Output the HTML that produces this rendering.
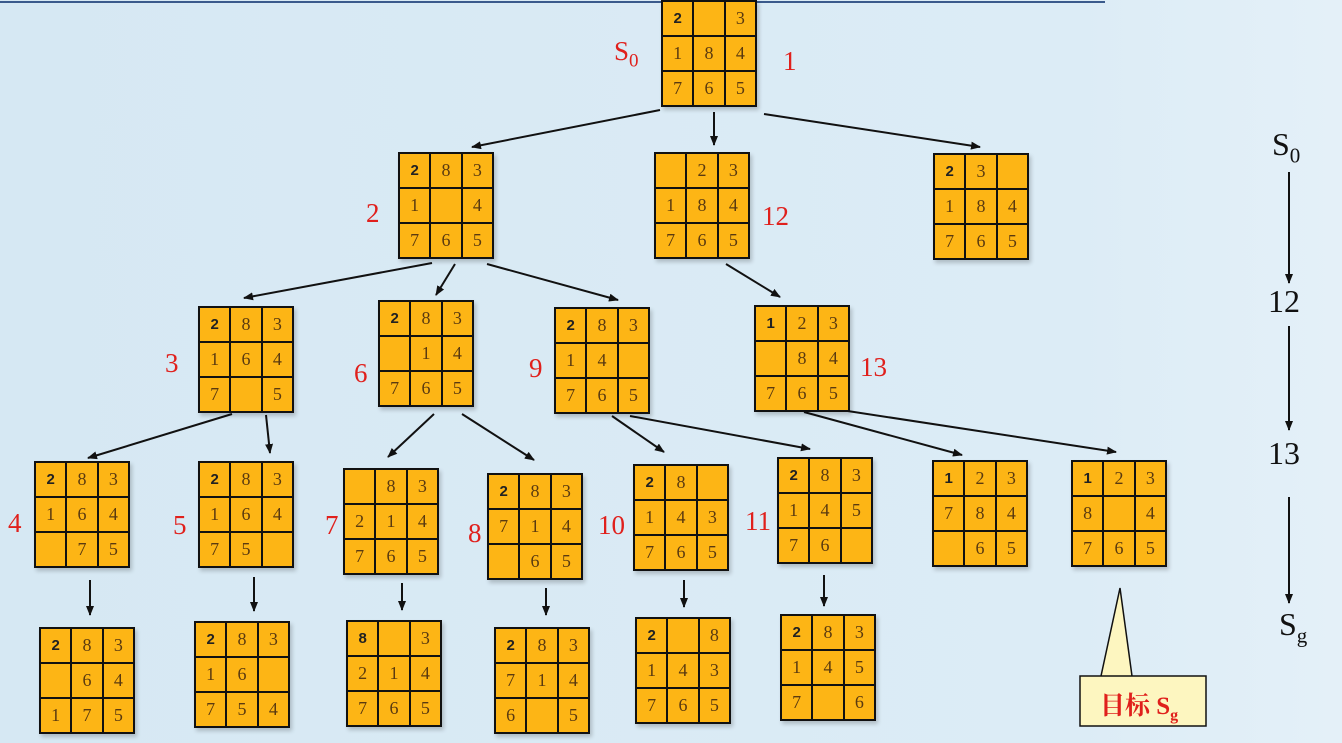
<!DOCTYPE html>
<html><head><meta charset="utf-8"><style>
body{margin:0;width:1342px;height:743px;overflow:hidden;background:linear-gradient(90deg,#d6e8f3,#dcecf6 80%,#e4f0f8);position:relative;font-family:"Liberation Serif",serif}
.b{position:absolute;width:92px;height:103px;border:2px solid #111;background:#111;display:grid;grid-template-columns:repeat(3,1fr);grid-template-rows:repeat(3,1fr);gap:2px;box-shadow:2px 3px 4px rgba(0,0,0,.2)}
.b span{background:#fdb515;color:#5a3a10;font-size:18px;display:flex;align-items:center;justify-content:center}
.b span:first-child{font-family:"Liberation Sans",sans-serif;font-weight:bold;color:#222;font-size:15px}
.l{position:absolute;color:#e0201c;font-size:27px}
.r{position:absolute;color:#111;font-size:32px}
svg{position:absolute;left:0;top:0}
</style></head><body>
<div style="position:absolute;left:0;top:1px;width:1105px;height:2px;background:#3a5a8c"></div>
<svg width="1342" height="743"><defs><marker id="a" markerWidth="10" markerHeight="8" refX="9" refY="4" orient="auto" markerUnits="userSpaceOnUse"><path d="M0,0L10,4L0,8z" fill="#111"/></marker></defs>
<g stroke="#111" stroke-width="2" fill="none" marker-end="url(#a)">
<line x1="660" y1="110" x2="472" y2="147"/>
<line x1="714" y1="112" x2="714" y2="145"/>
<line x1="764" y1="114" x2="980" y2="147"/>
<line x1="432" y1="263" x2="244" y2="298"/>
<line x1="455" y1="264" x2="436" y2="295"/>
<line x1="487" y1="264" x2="618" y2="300"/>
<line x1="726" y1="264" x2="780" y2="297"/>
<line x1="232" y1="414" x2="88" y2="458"/>
<line x1="266" y1="415" x2="270" y2="453"/>
<line x1="434" y1="414" x2="388" y2="457"/>
<line x1="462" y1="414" x2="534" y2="460"/>
<line x1="612" y1="416" x2="664" y2="452"/>
<line x1="630" y1="416" x2="810" y2="449"/>
<line x1="804" y1="412" x2="962" y2="455"/>
<line x1="828" y1="408" x2="1116" y2="452"/>
<line x1="90" y1="580" x2="90" y2="615"/>
<line x1="254" y1="577" x2="254" y2="611"/>
<line x1="402" y1="583" x2="402" y2="610"/>
<line x1="546" y1="588" x2="546" y2="615"/>
<line x1="684" y1="580" x2="684" y2="607"/>
<line x1="824" y1="575" x2="824" y2="606"/>
<line x1="1289" y1="172" x2="1289" y2="283"/>
<line x1="1289" y1="326" x2="1289" y2="430"/>
<line x1="1289" y1="497" x2="1289" y2="603"/>
</g>
<path d="M1080,676H1206V726H1080V676H1101L1120,588L1132,676" fill="#fdf6c0" stroke="#111" stroke-width="1.5"/>
</svg>
<div class="b" style="left:661px;top:0px"><span>2</span><span></span><span>3</span><span>1</span><span>8</span><span>4</span><span>7</span><span>6</span><span>5</span></div>
<div class="b" style="left:398px;top:152px"><span>2</span><span>8</span><span>3</span><span>1</span><span></span><span>4</span><span>7</span><span>6</span><span>5</span></div>
<div class="b" style="left:654px;top:152px"><span></span><span>2</span><span>3</span><span>1</span><span>8</span><span>4</span><span>7</span><span>6</span><span>5</span></div>
<div class="b" style="left:933px;top:153px"><span>2</span><span>3</span><span></span><span>1</span><span>8</span><span>4</span><span>7</span><span>6</span><span>5</span></div>
<div class="b" style="left:198px;top:306px"><span>2</span><span>8</span><span>3</span><span>1</span><span>6</span><span>4</span><span>7</span><span></span><span>5</span></div>
<div class="b" style="left:378px;top:300px"><span>2</span><span>8</span><span>3</span><span></span><span>1</span><span>4</span><span>7</span><span>6</span><span>5</span></div>
<div class="b" style="left:554px;top:307px"><span>2</span><span>8</span><span>3</span><span>1</span><span>4</span><span></span><span>7</span><span>6</span><span>5</span></div>
<div class="b" style="left:754px;top:305px"><span>1</span><span>2</span><span>3</span><span></span><span>8</span><span>4</span><span>7</span><span>6</span><span>5</span></div>
<div class="b" style="left:34px;top:461px"><span>2</span><span>8</span><span>3</span><span>1</span><span>6</span><span>4</span><span></span><span>7</span><span>5</span></div>
<div class="b" style="left:198px;top:461px"><span>2</span><span>8</span><span>3</span><span>1</span><span>6</span><span>4</span><span>7</span><span>5</span><span></span></div>
<div class="b" style="left:343px;top:468px"><span></span><span>8</span><span>3</span><span>2</span><span>1</span><span>4</span><span>7</span><span>6</span><span>5</span></div>
<div class="b" style="left:487px;top:473px"><span>2</span><span>8</span><span>3</span><span>7</span><span>1</span><span>4</span><span></span><span>6</span><span>5</span></div>
<div class="b" style="left:633px;top:464px"><span>2</span><span>8</span><span></span><span>1</span><span>4</span><span>3</span><span>7</span><span>6</span><span>5</span></div>
<div class="b" style="left:777px;top:457px"><span>2</span><span>8</span><span>3</span><span>1</span><span>4</span><span>5</span><span>7</span><span>6</span><span></span></div>
<div class="b" style="left:932px;top:460px"><span>1</span><span>2</span><span>3</span><span>7</span><span>8</span><span>4</span><span></span><span>6</span><span>5</span></div>
<div class="b" style="left:1071px;top:460px"><span>1</span><span>2</span><span>3</span><span>8</span><span></span><span>4</span><span>7</span><span>6</span><span>5</span></div>
<div class="b" style="left:39px;top:627px"><span>2</span><span>8</span><span>3</span><span></span><span>6</span><span>4</span><span>1</span><span>7</span><span>5</span></div>
<div class="b" style="left:194px;top:621px"><span>2</span><span>8</span><span>3</span><span>1</span><span>6</span><span></span><span>7</span><span>5</span><span>4</span></div>
<div class="b" style="left:346px;top:620px"><span>8</span><span></span><span>3</span><span>2</span><span>1</span><span>4</span><span>7</span><span>6</span><span>5</span></div>
<div class="b" style="left:494px;top:627px"><span>2</span><span>8</span><span>3</span><span>7</span><span>1</span><span>4</span><span>6</span><span></span><span>5</span></div>
<div class="b" style="left:635px;top:617px"><span>2</span><span></span><span>8</span><span>1</span><span>4</span><span>3</span><span>7</span><span>6</span><span>5</span></div>
<div class="b" style="left:780px;top:614px"><span>2</span><span>8</span><span>3</span><span>1</span><span>4</span><span>5</span><span>7</span><span></span><span>6</span></div>
<div class="l" style="left:614px;top:36px">S<sub style="font-size:19px">0</sub></div>
<div class="l" style="left:783px;top:46px">1</div>
<div class="l" style="left:366px;top:198px">2</div>
<div class="l" style="left:762px;top:201px">12</div>
<div class="l" style="left:165px;top:348px">3</div>
<div class="l" style="left:354px;top:358px">6</div>
<div class="l" style="left:529px;top:353px">9</div>
<div class="l" style="left:860px;top:352px">13</div>
<div class="l" style="left:8px;top:508px">4</div>
<div class="l" style="left:173px;top:510px">5</div>
<div class="l" style="left:325px;top:510px">7</div>
<div class="l" style="left:468px;top:518px">8</div>
<div class="l" style="left:598px;top:510px">10</div>
<div class="l" style="left:745px;top:506px">11</div>
<div class="l" style="left:1100px;top:686px;font-family:'Liberation Serif','Noto Serif CJK SC',serif;font-size:25px;font-weight:bold">目标 S<sub style="font-size:16px">g</sub></div>
<div class="r" style="left:1272px;top:126px">S<sub style="font-size:21px">0</sub></div>
<div class="r" style="left:1268px;top:283px">12</div>
<div class="r" style="left:1268px;top:435px">13</div>
<div class="r" style="left:1279px;top:606px">S<sub style="font-size:21px">g</sub></div>
</body></html>
